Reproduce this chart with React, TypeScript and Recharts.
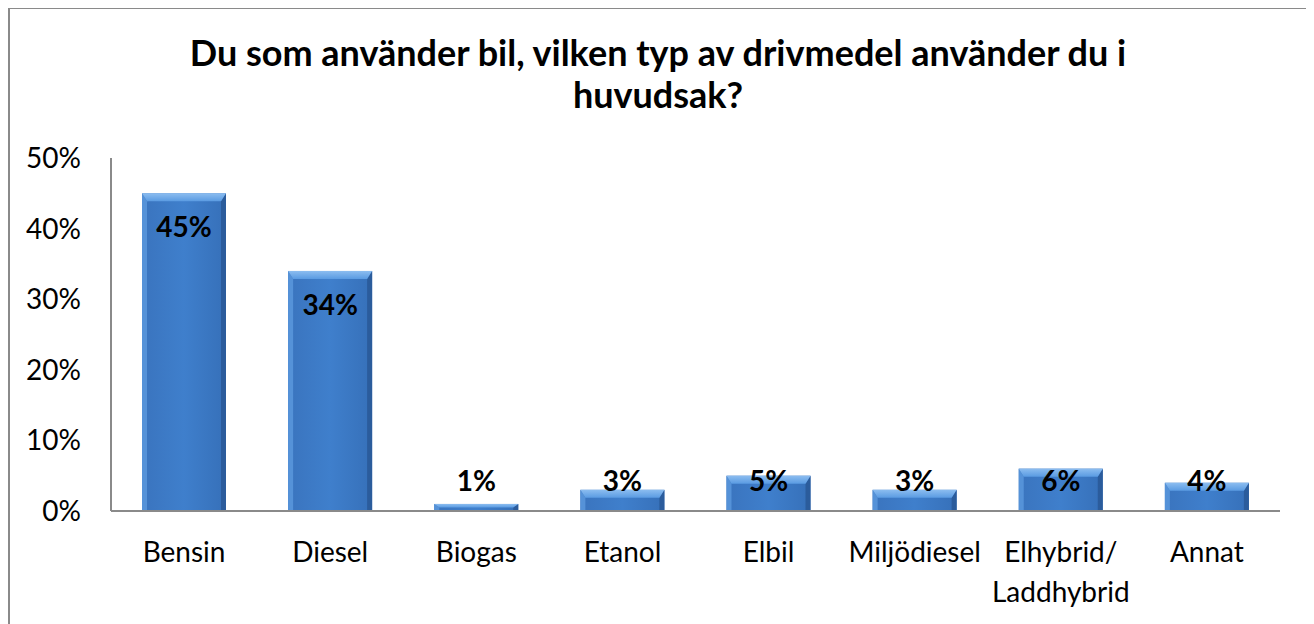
import { BarChart, Bar, XAxis, YAxis, LabelList } from 'recharts'

const categories = ['Bensin', 'Diesel', 'Biogas', 'Etanol', 'Elbil', 'Miljödiesel', 'Elhybrid/\nLaddhybrid', 'Annat']
const shares = [45, 34, 1, 3, 5, 3, 6, 4]
const yTicks = [0, 10, 20, 30, 40, 50]
const titleLines = ['Du som använder bil, vilken typ av drivmedel använder du i', 'huvudsak?']

const FONT = 'Lato, "Open Sans", sans-serif'

const data = categories.map((name, i) => ({ name, value: shares[i] }))

const BevelBar = (props: any) => {
  const { x, y, width, height } = props
  if (height <= 0) return null
  const b = Math.min(8, height / 2)
  const s = Math.min(5, width / 4)
  return (
    <g>
      <rect x={x} y={y} width={width} height={height} fill="url(#barBody)" />
      <polygon points={`${x},${y} ${x + s},${y + b} ${x + s},${y + height} ${x},${y + height}`} fill="#5592d8" />
      <polygon points={`${x + width},${y} ${x + width - s},${y + b} ${x + width - s},${y + height} ${x + width},${y + height}`} fill="#2b5c9c" />
      <polygon points={`${x},${y} ${x + width},${y} ${x + width - s},${y + b} ${x + s},${y + b}`} fill="url(#barTop)" />
    </g>
  )
}

const ValueLabel = (props: any) => {
  const { x, y, width, height, value } = props
  const cy = Math.min(y + 33, y + height - 31)
  return (
    <text x={x + width / 2} y={cy} textAnchor="middle" dominantBaseline="central"
      fontFamily={FONT} fontWeight="bold" fontSize={28} fill="#000">
      {value}%
    </text>
  )
}

const CategoryTick = (props: any) => {
  const { x, y, payload } = props
  const lines = String(payload.value).split('\n')
  return (
    <text x={x} y={y} textAnchor="middle" fontFamily={FONT} fontSize={28} fill="#000">
      {lines.map((l, i) => (
        <tspan key={i} x={x} dy={i === 0 ? 43 : 40}>{l}</tspan>
      ))}
    </text>
  )
}

const App = () => {
  return (
    <div style={{ position: 'relative', width: 1296, height: 640, border: '2px solid #8a8a8a', boxSizing: 'content-box', marginTop: -1, background: '#fff' }}>
      <div style={{ position: 'absolute', top: 22, left: 0, width: 1296, textAlign: 'center', fontFamily: FONT, fontWeight: 'bold', fontSize: 36, lineHeight: '42px', color: '#000' }}>
        {titleLines.map(t => <div key={t}>{t}</div>)}
      </div>
      <BarChart width={1296} height={640} data={data} margin={{ top: 149, right: 26, left: 0, bottom: 38 }}>
        <defs>
          <linearGradient id="barBody" x1="0" y1="0" x2="1" y2="0">
            <stop offset="0%" stopColor="#3a74be" />
            <stop offset="50%" stopColor="#3f7fcc" />
            <stop offset="100%" stopColor="#3670b9" />
          </linearGradient>
          <linearGradient id="barTop" x1="0" y1="0" x2="0" y2="1">
            <stop offset="0%" stopColor="#8cbdf0" />
            <stop offset="100%" stopColor="#5a9be2" />
          </linearGradient>
        </defs>
        <XAxis dataKey="name" interval={0} tickLine={false} height={100}
          axisLine={{ stroke: '#8a8a8a', strokeWidth: 2 }} tick={<CategoryTick />} />
        <YAxis domain={[0, 50]} ticks={yTicks} width={101} tickLine={false} tickSize={0} tickMargin={30}
          axisLine={{ stroke: '#8a8a8a', strokeWidth: 2 }}
          tickFormatter={(v) => `${v}%`}
          tick={{ fill: '#000', fontSize: 28, fontFamily: FONT }} />
        <Bar dataKey="value" barSize={84} shape={<BevelBar />} isAnimationActive={false}>
          <LabelList dataKey="value" content={<ValueLabel />} />
        </Bar>
      </BarChart>
    </div>
  )
}

export default App
